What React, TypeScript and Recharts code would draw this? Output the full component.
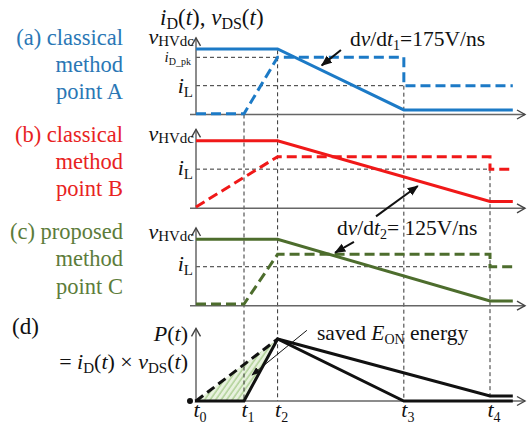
import React from 'react';
import { ComposedChart, Line, Area, XAxis, YAxis, ReferenceLine } from 'recharts';

// ---------- data ----------
const timeTicks = [0, 1.0, 1.7, 4.33, 6.125];
const tickLabels = ['0', '1', '2', '3', '4'];
const tStart = -0.125;
const tArrow = 6.854;

// panel (a) classical method, point A
const vA = [{ t: 0, v: 1 }, { t: 1.7, v: 1 }, { t: 4.33, v: 0.07 }, { t: 6.6, v: 0.07 }];
const iA = [{ t: 0, v: 0.01 }, { t: 1.0, v: 0.01 }, { t: 1.7, v: 0.873 }, { t: 4.33, v: 0.873 }, { t: 4.33, v: 0.44 }, { t: 6.6, v: 0.44 }];
// panel (b) classical method, point B
const vB = [{ t: 0, v: 1 }, { t: 1.7, v: 1 }, { t: 6.125, v: 0.1 }, { t: 6.6, v: 0.1 }];
const iB = [{ t: 0, v: 0.02 }, { t: 1.7, v: 0.765 }, { t: 6.125, v: 0.765 }, { t: 6.125, v: 0.58 }, { t: 6.6, v: 0.58 }];
// panel (c) proposed method, point C
const vC = [{ t: 0, v: 1 }, { t: 1.7, v: 1 }, { t: 6.125, v: 0.07 }, { t: 6.6, v: 0.07 }];
const iC = [{ t: 0, v: 0.025 }, { t: 1.0, v: 0.025 }, { t: 1.7, v: 0.774 }, { t: 6.125, v: 0.774 }, { t: 6.125, v: 0.587 }, { t: 6.6, v: 0.587 }];
// panel (d) power
const pDashed = [{ t: 0, v: 0 }, { t: 1.7, v: 1 }];
const pSolid = [{ t: -0.125, v: 0 }, { t: 1.0, v: 0 }, { t: 1.7, v: 1 }, { t: 4.33, v: 0 }, { t: 6.6, v: 0 }];
const pSlow = [{ t: 1.7, v: 1 }, { t: 6.125, v: 0.08 }, { t: 6.6, v: 0.08 }];

// reference levels
const levelsA = { iDpk: 0.873, iL: 0.44 };
const levelB = 0.58;
const levelC = 0.587;

// ---------- layout ----------
const W = 530;
const H = 428;
const XAXIS_H = 20;
const PLOT_H = H - XAXIS_H;
const X0_PX = 196;
const PX_PER_T = 48;
const X_DOMAIN: [number, number] = [-X0_PX / PX_PER_T, (W - X0_PX) / PX_PER_T];

const PANELS: Record<string, { base: number; unit: number }> = {
  a: { base: 114.5, unit: 65.5 },
  b: { base: 208.3, unit: 67.5 },
  c: { base: 305.7, unit: 66.4 },
  d: { base: 401, unit: 62 },
};
const dom = (p: string): [number, number] => [
  (PANELS[p].base - PLOT_H) / PANELS[p].unit,
  PANELS[p].base / PANELS[p].unit,
];
const toD = (p: string, v: number) =>
  (PANELS.d.base - (PANELS[p].base - v * PANELS[p].unit)) / PANELS.d.unit;

// hatched region between classical (dashed) and proposed (solid) power curves
const t1 = timeTicks[1];
const t2 = timeTicks[2];
const hatch = [
  { t: 0, r: [0, 0] },
  { t: t1, r: [0, t1 / t2] },
  { t: t2, r: [1, 1] },
];

const BLUE = '#1c7ac6';
const RED = '#f01818';
const GREEN = '#4d6d2d';
const AXIS = '#666';
const SERIF = '"Liberation Serif", "Times New Roman", Tinos, "DejaVu Serif", serif';

const lineShape = (stroke: string, width: number, marker?: string, dash?: string) => (props: any) => (
  <line
    x1={props.x1}
    y1={props.y1}
    x2={props.x2}
    y2={props.y2}
    stroke={stroke}
    strokeWidth={width}
    strokeDasharray={dash}
    markerEnd={marker ? `url(#${marker})` : undefined}
  />
);

const TTick = (props: any) => {
  const { x, payload } = props;
  const i = timeTicks.indexOf(payload.value);
  return (
    <text x={x + 4} y={PLOT_H + 9} textAnchor="middle" fontFamily={SERIF} fontSize={22} fontStyle="italic" fill="#111">
      t<tspan fontSize={14} fontStyle="normal" dy={5}>{tickLabels[i]}</tspan>
    </text>
  );
};

const Sym = ({ main, sub, fs = 22, sfs = 15, dy = 4 }: any) => (
  <>
    <span style={{ fontStyle: 'italic', fontSize: fs }}>{main}</span>
    <span style={{ fontSize: sfs, position: 'relative', top: dy }}>{sub}</span>
  </>
);

const T = ({ x, y, right, fs = 21, color = '#111', children, lh }: any) => {
  const L = lh || fs;
  const style: React.CSSProperties = {
    position: 'absolute',
    top: y - ((L - 1.107 * fs) / 2 + 0.891 * fs),
    fontFamily: SERIF,
    fontSize: fs,
    lineHeight: `${L}px`,
    color,
    whiteSpace: 'nowrap',
  };
  if (right !== undefined) {
    style.right = W - right;
    style.textAlign = 'right';
  } else style.left = x;
  return <div style={style}>{children}</div>;
};

const panelAxes = (p: string) => [
  <ReferenceLine key={p + 'h'} yAxisId={p} ifOverflow="visible" segment={[{ x: tStart, y: 0 }, { x: tArrow, y: 0 }]} shape={lineShape(AXIS, 1.5, 'axArrow')} />,
  <ReferenceLine key={p + 'v'} yAxisId={p} ifOverflow="visible" segment={[{ x: 0, y: 0 }, { x: 0, y: 1.17 }]} shape={lineShape(AXIS, 1.5, 'axArrow')} />,
];

const thin = '#333';
const thinDash = '4 3';

export default function App() {
  return (
    <div style={{ position: 'absolute', left: 0, top: 0, width: W, height: H, background: '#fff' }}>
      <ComposedChart width={W} height={H} margin={{ top: 0, right: 0, bottom: 0, left: 0 }}>
        <defs>
          <marker id="axArrow" markerWidth="12" markerHeight="12" refX="9" refY="6" orient="auto" markerUnits="userSpaceOnUse">
            <path d="M1,1.5 L9,6 L1,10.5" fill="none" stroke="#444" strokeWidth="1.4" />
          </marker>
          <marker id="blkArrow" markerWidth="12" markerHeight="10" refX="10" refY="5" orient="auto" markerUnits="userSpaceOnUse">
            <path d="M0,0.5 L11,5 L0,9.5 Z" fill="#111" />
          </marker>
          <marker id="smallArrow" markerWidth="10" markerHeight="8" refX="8" refY="4" orient="auto" markerUnits="userSpaceOnUse">
            <path d="M0,0.5 L9,4 L0,7.5 Z" fill="#111" />
          </marker>
          <pattern id="hatch" width="4.5" height="4.5" patternUnits="userSpaceOnUse" patternTransform="rotate(35)">
            <rect width="4.5" height="4.5" fill="#e8f2de" />
            <line x1="1" y1="0" x2="1" y2="4.5" stroke="#a3c986" strokeWidth="1.2" />
          </pattern>
        </defs>
        <XAxis dataKey="t" type="number" domain={X_DOMAIN} allowDataOverflow ticks={timeTicks} interval={0} axisLine={false} tickLine={false} height={XAXIS_H} tick={<TTick />} />
        {['a', 'b', 'c', 'd'].map((p) => (
          <YAxis key={p} yAxisId={p} hide type="number" domain={dom(p)} allowDataOverflow />
        ))}

        {/* time markers */}
        <ReferenceLine yAxisId="d" ifOverflow="visible" segment={[{ x: timeTicks[1], y: toD('a', 0) }, { x: timeTicks[1], y: 0 }]} shape={lineShape(thin, 1, undefined, thinDash)} />
        <ReferenceLine yAxisId="d" ifOverflow="visible" segment={[{ x: timeTicks[2], y: toD('a', 0.98) }, { x: timeTicks[2], y: 0 }]} shape={lineShape(thin, 1, undefined, thinDash)} />
        <ReferenceLine yAxisId="d" ifOverflow="visible" segment={[{ x: timeTicks[3], y: toD('a', levelsA.iL) }, { x: timeTicks[3], y: 0 }]} shape={lineShape(thin, 1, undefined, thinDash)} />
        <ReferenceLine yAxisId="d" ifOverflow="visible" segment={[{ x: timeTicks[4], y: toD('b', levelB) }, { x: timeTicks[4], y: 0 }]} shape={lineShape(thin, 1, undefined, thinDash)} />

        {/* level guides */}
        <ReferenceLine yAxisId="a" ifOverflow="visible" segment={[{ x: 0, y: levelsA.iDpk }, { x: timeTicks[2], y: levelsA.iDpk }]} shape={lineShape(thin, 1, undefined, thinDash)} />
        <ReferenceLine yAxisId="a" ifOverflow="visible" segment={[{ x: 0, y: levelsA.iL }, { x: timeTicks[3], y: levelsA.iL }]} shape={lineShape(thin, 1, undefined, thinDash)} />
        <ReferenceLine yAxisId="b" ifOverflow="visible" segment={[{ x: 0, y: levelB }, { x: timeTicks[4], y: levelB }]} shape={lineShape(thin, 1, undefined, thinDash)} />
        <ReferenceLine yAxisId="c" ifOverflow="visible" segment={[{ x: 0, y: levelC }, { x: timeTicks[4], y: levelC }]} shape={lineShape(thin, 1, undefined, thinDash)} />

        {panelAxes('a')}
        {panelAxes('b')}
        {panelAxes('c')}
        {panelAxes('d')}

        <Area yAxisId="d" data={hatch} dataKey="r" type="linear" stroke="none" fill="url(#hatch)" fillOpacity={1} isAnimationActive={false} />

        <Line yAxisId="a" data={vA} dataKey="v" type="linear" stroke={BLUE} strokeWidth={3} dot={false} isAnimationActive={false} />
        <Line yAxisId="a" data={iA} dataKey="v" type="linear" stroke={BLUE} strokeWidth={3} strokeDasharray="10 5" dot={false} isAnimationActive={false} />
        <Line yAxisId="b" data={vB} dataKey="v" type="linear" stroke={RED} strokeWidth={3} dot={false} isAnimationActive={false} />
        <Line yAxisId="b" data={iB} dataKey="v" type="linear" stroke={RED} strokeWidth={3} strokeDasharray="10 5" dot={false} isAnimationActive={false} />
        <Line yAxisId="c" data={vC} dataKey="v" type="linear" stroke={GREEN} strokeWidth={3} dot={false} isAnimationActive={false} />
        <Line yAxisId="c" data={iC} dataKey="v" type="linear" stroke={GREEN} strokeWidth={3} strokeDasharray="10 5" dot={false} isAnimationActive={false} />
        <Line yAxisId="d" data={pDashed} dataKey="v" type="linear" stroke="#111" strokeWidth={3} strokeDasharray="9 5" dot={false} isAnimationActive={false} />
        <Line yAxisId="d" data={pSlow} dataKey="v" type="linear" stroke="#111" strokeWidth={3} dot={false} isAnimationActive={false} />
        <Line yAxisId="d" data={pSolid} dataKey="v" type="linear" stroke="#111" strokeWidth={3} dot={false} isAnimationActive={false} />

        {/* annotation arrows */}
        <ReferenceLine yAxisId="a" ifOverflow="visible" segment={[{ x: 3.02, y: 0.985 }, { x: 2.62, y: 0.75 }]} shape={lineShape('#111', 2, 'blkArrow')} />
        <ReferenceLine yAxisId="b" ifOverflow="visible" segment={[{ x: 3.75, y: -0.12 }, { x: 4.62, y: 0.33 }]} shape={lineShape('#111', 2, 'blkArrow')} />
        <ReferenceLine yAxisId="c" ifOverflow="visible" segment={[{ x: 3.29, y: 0.96 }, { x: 2.9, y: 0.8 }]} shape={lineShape('#111', 2, 'blkArrow')} />
        <ReferenceLine yAxisId="d" ifOverflow="visible" segment={[{ x: 2.31, y: 1.14 }, { x: 1.17, y: 0.42 }]} shape={lineShape('#111', 1, 'smallArrow')} />
      </ComposedChart>

      {/* left captions */}
      <T right={123} y={45} lh={27} fs={22.5} color="#2a77b5">(a) classical<br />method<br />point A</T>
      <T right={123} y={142} lh={27} fs={22.5} color="#e82222">(b) classical<br />method<br />point B</T>
      <T right={123} y={239} lh={27.5} fs={22.5} color="#5c7c3a">(c) proposed<br />method<br />point C</T>
      <T x={12} y={334} fs={23}>(d)</T>
      <T right={188} y={341} fs={22}><i>P</i>(<i>t</i>)</T>
      <T right={188} y={369} fs={22}>= <Sym main="i" sub="D" />(<i>t</i>) × <Sym main="v" sub="DS" />(<i>t</i>)</T>

      {/* top title */}
      <T x={160} y={25} fs={23}><Sym main="i" sub="D" fs={23} sfs={16} />(<i>t</i>), <Sym main="v" sub="DS" fs={23} sfs={16} />(<i>t</i>)</T>

      {/* axis level labels */}
      <T right={194} y={44} fs={22}><Sym main="v" sub="HVdc" dy={2} /></T>
      <T right={191} y={62} fs={14}><Sym main="i" sub="D_pk" fs={15} sfs={10} dy={3} /></T>
      <T right={193} y={93} fs={22}><Sym main="i" sub="L" /></T>
      <T right={194} y={141} fs={22}><Sym main="v" sub="HVdc" dy={2} /></T>
      <T right={193} y={175} fs={22}><Sym main="i" sub="L" /></T>
      <T right={194} y={239} fs={22}><Sym main="v" sub="HVdc" dy={2} /></T>
      <T right={193} y={271} fs={22}><Sym main="i" sub="L" /></T>

      {/* annotations */}
      <T x={350} y={47} fs={21.5}>d<i>v</i>/d<Sym main="t" sub="1" fs={21.5} sfs={14} />=175V/ns</T>
      <T x={337} y={236} fs={21.5}>d<i>v</i>/d<Sym main="t" sub="2" fs={21.5} sfs={14} />= 125V/ns</T>
      <T x={317} y={341} fs={21.5}>saved <Sym main="E" sub="ON" fs={21.5} sfs={14} /> energy</T>
    </div>
  );
}
